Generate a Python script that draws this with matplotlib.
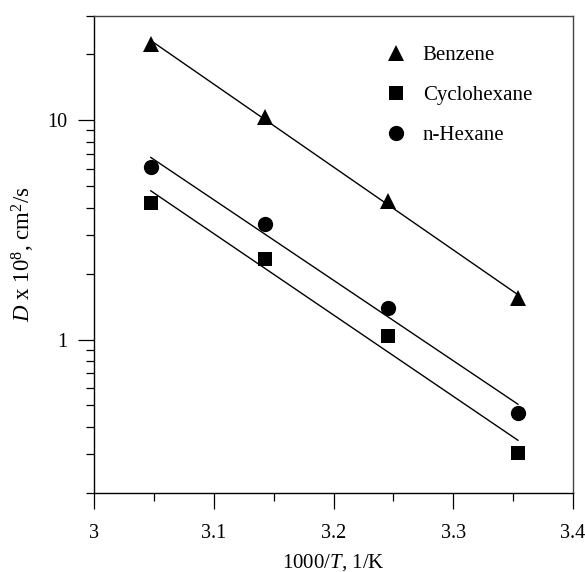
import numpy as np
import matplotlib
matplotlib.use("Agg")
import matplotlib.pyplot as plt
from matplotlib.ticker import LogLocator, MultipleLocator, FixedLocator, FuncFormatter, NullFormatter

plt.rcParams['font.family'] = ['Liberation Serif', 'DejaVu Serif']
plt.rcParams['mathtext.fontset'] = 'custom'
plt.rcParams['mathtext.rm'] = 'Liberation Serif'
plt.rcParams['mathtext.it'] = 'Liberation Serif:italic'

# ---- data: 1000/T (1/K) and diffusion coefficient D x 10^8 (cm2/s) ----
inv_T = [3.0474, 3.1432, 3.2452, 3.3540]
benzene = [22.3, 10.4, 4.27, 1.55]
cyclohexane = [4.2, 2.32, 1.04, 0.302]
n_hexane = [6.1, 3.35, 1.39, 0.463]

series = [
    ("Benzene", benzene, "^", 12),
    ("Cyclohexane", cyclohexane, "s", 10),
    ("n-Hexane", n_hexane, "o", 11),
]

fig = plt.figure(figsize=(5.85, 5.72), dpi=100)
ax = fig.add_axes([0.1607, 0.1386, 0.8188, 0.8339])

x = np.array(inv_T)
handles = []
for name, vals, mk, ms in series:
    # Arrhenius fit: straight line of log10(D) against 1000/T
    slope, icpt = np.polyfit(x, np.log10(vals), 1)
    ax.plot(x, 10 ** (slope * x + icpt), color="black", lw=1.0, zorder=2)
    h, = ax.plot(x, vals, ls="none", marker=mk, ms=ms, color="black",
                 markeredgewidth=0, zorder=3, label=name)
    handles.append(h)

ax.set_yscale("log")
ax.set_xlim(3.0, 3.4)
ax.set_ylim(0.2, 30)

ax.xaxis.set_major_locator(MultipleLocator(0.1))
ax.xaxis.set_minor_locator(MultipleLocator(0.05))
ax.xaxis.set_major_formatter(FuncFormatter(lambda v, p: "%g" % round(v, 2)))
ax.yaxis.set_major_locator(FixedLocator([1, 10]))
ax.yaxis.set_major_formatter(FuncFormatter(lambda v, p: "%g" % v))
ax.yaxis.set_minor_locator(LogLocator(base=10, subs=np.arange(2, 10)))
ax.yaxis.set_minor_formatter(NullFormatter())

ax.tick_params(which="both", direction="out", top=False, right=False,
               width=0.9, color="black", labelsize=14.5)
ax.tick_params(which="major", length=11.3, pad=8)
ax.tick_params(axis="x", which="major", pad=11.5)
ax.tick_params(which="minor", length=5.8)

for side in ["left", "bottom"]:
    ax.spines[side].set_color("black")
    ax.spines[side].set_linewidth(1.0)
for side in ["top", "right"]:
    ax.spines[side].set_color("#444444")
    ax.spines[side].set_linewidth(1.0)

ax.set_xlabel(r"1000/$T$, 1/K", fontsize=15, labelpad=6)
ax.set_ylabel(r"$D$ x 10$^8$, cm$^2$/s", fontsize=16.5, labelpad=7)

ax.legend(handles=handles, loc="upper left", bbox_to_anchor=(0.608, 0.937),
          frameon=False, fontsize=15, handlelength=1.0, handletextpad=0.8,
          labelspacing=0.97, borderpad=0, borderaxespad=0, numpoints=1)

fig.savefig("out.png", dpi=100)
